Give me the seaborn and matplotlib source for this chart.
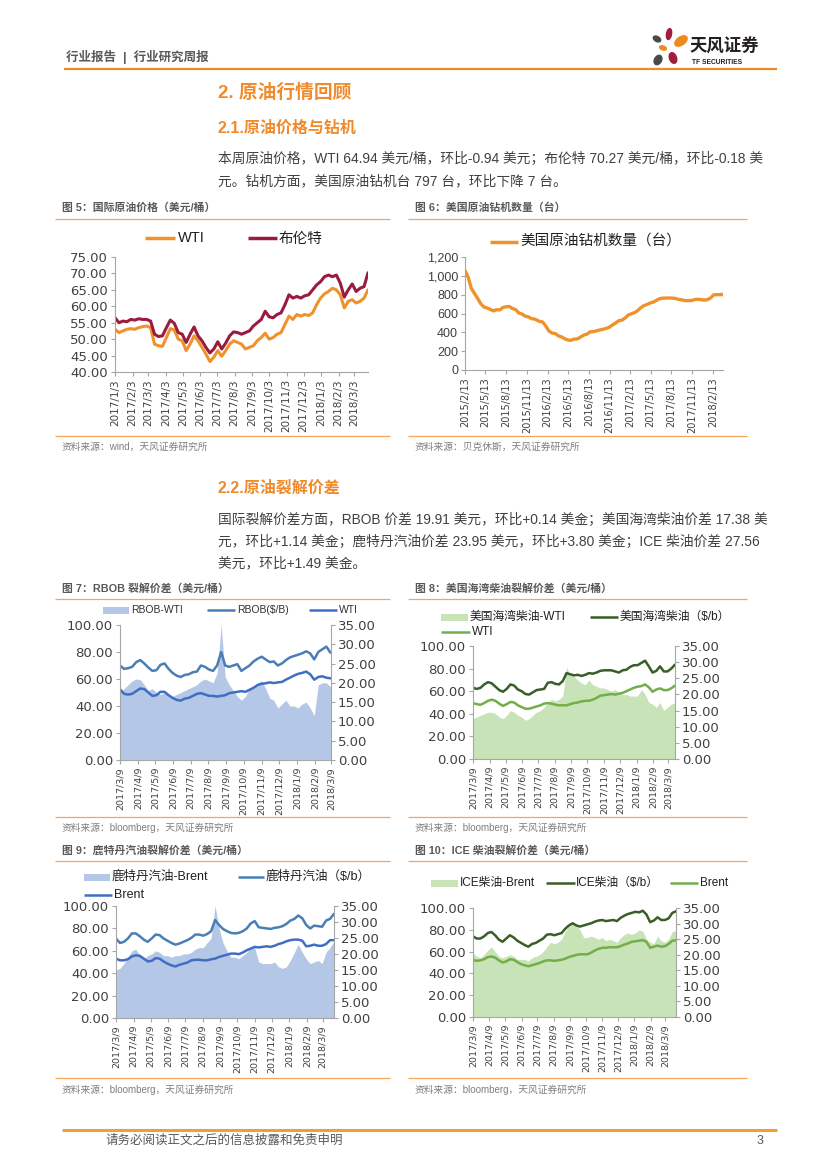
import numpy as np
import pandas as pd
import matplotlib
matplotlib.use("Agg")
import matplotlib.pyplot as plt
from matplotlib.patches import Rectangle, Ellipse
from matplotlib.ticker import FormatStrFormatter, FuncFormatter
import seaborn as sns

# ---------------- data ----------------
# Fig 5: international crude prices (weekly samples from 2017-01-03)
oil_dates = pd.date_range("2017-01-03", periods=65, freq="7D")
wti_price = [53.0, 52.0, 52.5, 53.0, 53.2, 53.0, 53.5, 53.8, 54.0, 53.5,
             48.5, 48.0, 47.8, 50.5, 53.2, 52.8, 50.0, 49.5, 46.5, 48.5,
             51.0, 49.5, 47.5, 45.5, 43.2, 44.5, 46.5, 44.8, 46.5, 48.5,
             49.5, 49.0, 48.5, 47.0, 47.5, 48.0, 49.5, 50.5, 51.8, 50.0,
             50.5, 51.5, 52.0, 54.5, 57.0, 56.0, 57.5, 57.0, 57.5, 57.2,
             58.0, 60.5, 62.5, 63.8, 64.5, 65.5, 65.0, 63.5, 59.5, 61.5,
             62.0, 61.0, 61.5, 62.5, 65.0]
brent_price = [56.5, 55.0, 55.5, 55.3, 56.0, 55.8, 56.2, 56.0, 56.0, 55.5,
               51.5, 50.8, 51.0, 53.5, 55.8, 54.8, 52.0, 51.5, 49.0, 51.5,
               53.7, 51.0, 49.5, 47.5, 45.8, 47.0, 49.2, 47.0, 48.8, 51.0,
               52.2, 52.0, 51.5, 52.0, 52.5, 54.0, 55.0, 56.0, 58.5, 56.8,
               56.5, 57.5, 58.0, 60.5, 63.5, 62.5, 63.0, 62.5, 63.2, 63.5,
               65.0, 66.5, 67.5, 69.0, 69.5, 69.0, 69.5, 67.0, 62.8, 65.0,
               66.8, 64.5, 65.5, 66.0, 70.2]
oil_ticks = ["2017/1/3", "2017/2/3", "2017/3/3", "2017/4/3", "2017/5/3", "2017/6/3",
             "2017/7/3", "2017/8/3", "2017/9/3", "2017/10/3", "2017/11/3", "2017/12/3",
             "2018/1/3", "2018/2/3", "2018/3/3"]

# Fig 6: US oil rig count
rig_dates = ["2015-02-13", "2015-02-27", "2015-03-13", "2015-03-27", "2015-04-10", "2015-04-24",
             "2015-05-08", "2015-05-22", "2015-06-05", "2015-06-19", "2015-07-02", "2015-07-17",
             "2015-07-31", "2015-08-14", "2015-08-28", "2015-09-11", "2015-09-25", "2015-10-09",
             "2015-10-23", "2015-11-06", "2015-11-20", "2015-12-04", "2015-12-18", "2016-01-08",
             "2016-01-22", "2016-02-05", "2016-02-19", "2016-03-04", "2016-03-18", "2016-04-01",
             "2016-04-15", "2016-04-29", "2016-05-13", "2016-05-27", "2016-06-10", "2016-06-24",
             "2016-07-08", "2016-07-22", "2016-08-05", "2016-08-19", "2016-09-02", "2016-09-16",
             "2016-09-30", "2016-10-14", "2016-10-28", "2016-11-10", "2016-11-23", "2016-12-09",
             "2016-12-23", "2017-01-06", "2017-01-20", "2017-02-03", "2017-02-17", "2017-03-03",
             "2017-03-17", "2017-03-31", "2017-04-13", "2017-04-28", "2017-05-12", "2017-05-26",
             "2017-06-09", "2017-06-23", "2017-07-07", "2017-07-21", "2017-08-04", "2017-08-18",
             "2017-09-01", "2017-09-15", "2017-09-29", "2017-10-13", "2017-10-27", "2017-11-10",
             "2017-11-22", "2017-12-08", "2017-12-22", "2018-01-05", "2018-01-19", "2018-02-02",
             "2018-02-16", "2018-03-02", "2018-03-16", "2018-03-23", "2018-03-29"]
rig_count = [1056, 986, 866, 813, 760, 703, 668, 659, 642, 628,
             640, 638, 664, 672, 675, 652, 641, 605, 594, 572,
             564, 545, 541, 516, 510, 467, 413, 392, 387, 362,
             351, 332, 318, 316, 328, 330, 351, 371, 381, 406,
             407, 416, 425, 432, 441, 452, 474, 498, 523, 529,
             551, 583, 597, 609, 631, 662, 683, 697, 712, 722,
             741, 758, 763, 764, 765, 763, 759, 749, 744, 736,
             737, 738, 747, 751, 747, 742, 747, 765, 798, 800,
             800, 804, 797]
rig_ticks = ["2015/2/13", "2015/5/13", "2015/8/13", "2015/11/13", "2016/2/13", "2016/5/13",
             "2016/8/13", "2016/11/13", "2017/2/13", "2017/5/13", "2017/8/13", "2017/11/13",
             "2018/2/13"]

crack_ticks = ["2017/3/9", "2017/4/9", "2017/5/9", "2017/6/9", "2017/7/9", "2017/8/9",
               "2017/9/9", "2017/10/9", "2017/11/9", "2017/12/9", "2018/1/9", "2018/2/9",
               "2018/3/9"]

# Fig 7: RBOB crack (weekly from 2017-03-09)
rbob_dates = pd.date_range("2017-03-09", periods=53, freq="7D")
rbob_spread = [17.5, 18.5, 19.5, 20.5, 21.0, 20.8, 19.5, 18.0, 18.5, 17.5,
               17.0, 17.5, 16.5, 16.5, 17.0, 17.5, 18.0, 18.5, 19.0, 19.5,
               20.5, 21.0, 20.5, 20.0, 22.5, 35.0, 21.5, 19.5, 18.0, 16.5,
               15.5, 16.5, 18.5, 19.0, 20.0, 20.5, 18.5, 16.0, 15.5, 13.5,
               14.5, 15.5, 14.0, 14.0, 13.5, 14.5, 15.0, 13.5, 11.5, 19.5,
               20.0, 20.0, 19.0]
rbob_price = [70, 67.5, 68, 69, 72.5, 74, 71.5, 68.5, 66, 66.5,
              70.5, 71.5, 67.5, 64.5, 62.5, 61.5, 63, 63.5, 65, 65.5,
              70, 69, 67, 66, 70, 80, 70, 69, 70, 71,
              66, 68, 70, 73, 75, 76.5, 74.5, 72.5, 73, 70,
              71.5, 74, 76, 77, 78, 79, 80.5, 79, 74.5, 80,
              82, 84, 79.5]
rbob_wti = [52.5, 49.0, 48.5, 49.0, 51.0, 53.0, 52.5, 50.0, 47.5, 48.0,
            50.5, 50.5, 48.0, 46.0, 44.5, 44.0, 45.5, 46.0, 47.5, 49.0,
            49.5, 48.5, 47.5, 47.5, 47.0, 47.5, 48.0, 49.5, 50.0, 50.5,
            51.0, 50.5, 52.0, 53.5, 55.5, 56.5, 56.8, 57.5, 57.0, 57.5,
            57.8, 59.5, 61.0, 62.5, 63.8, 64.5, 65.5, 63.5, 59.5, 61.5,
            62.0, 61.0, 60.5]

# Fig 8: US Gulf diesel crack
gulf_dates = pd.date_range("2017-03-09", periods=55, freq="7D")
gulf_spread = [12.5, 13.0, 13.5, 14.0, 14.5, 14.5, 14.0, 13.0, 12.5, 13.5,
               15.0, 14.5, 13.5, 13.0, 12.0, 12.5, 13.5, 14.5, 15.0, 16.0,
               17.5, 18.5, 18.0, 18.5, 19.5, 28.5, 26.0, 25.5, 24.5, 23.5,
               23.0, 24.5, 23.0, 22.5, 22.0, 22.0, 21.5, 21.0, 21.5, 20.5,
               20.0, 20.0, 19.5, 19.5, 19.5, 21.5, 20.0, 17.5, 17.0, 16.0,
               17.5, 15.0, 16.0, 17.0, 17.4]
gulf_price = [63, 62, 63, 66, 68, 67, 64, 61, 59.5, 62,
              66, 65, 61.5, 60, 57.5, 57, 59, 61, 61.5, 62,
              67.5, 68, 66.5, 66, 69, 76, 75, 74, 74.5, 73.5,
              74.5, 76, 75.5, 76.5, 78, 78.5, 78.5, 78.5, 77.5, 76.5,
              78.5, 79, 81.5, 83, 83, 85, 87, 82, 76.5, 78,
              82, 77.5, 77.5, 80, 83.5]
gulf_wti = [49.5, 48.5, 48.0, 49.5, 51.5, 52.5, 51.5, 49.0, 47.0, 48.5,
            50.5, 50.0, 47.5, 46.0, 44.5, 44.5, 45.5, 46.5, 47.5, 49.0,
            49.5, 49.0, 48.0, 47.5, 47.5, 47.5, 48.5, 49.5, 50.0, 51.0,
            51.5, 51.5, 52.5, 54.0, 56.0, 56.5, 57.0, 57.5, 57.0, 57.8,
            58.5, 60.0, 61.5, 63.0, 64.0, 64.5, 66.0, 63.5, 59.5, 61.5,
            62.5, 61.0, 61.0, 62.5, 65.0]

# Fig 9: Rotterdam gasoline crack
rott_dates = pd.date_range("2017-03-09", periods=56, freq="7D")
rott_spread = [15.0, 15.5, 17.0, 19.0, 21.0, 21.5, 19.5, 18.5, 19.5, 20.0,
               21.0, 20.5, 19.5, 19.5, 19.0, 19.5, 19.5, 20.0, 20.0, 20.5,
               21.5, 22.0, 22.0, 23.5, 25.0, 35.0, 28.0, 23.5, 21.0, 19.0,
               19.0, 18.5, 19.5, 20.5, 22.0, 22.0, 17.5, 17.0, 17.0, 17.0,
               17.5, 16.0, 15.5, 16.0, 18.0, 20.5, 23.0, 20.5, 18.5, 17.0,
               17.5, 18.0, 17.0, 20.5, 22.0, 24.0]
rott_price = [71, 67, 68, 71, 75.5, 75.5, 73, 70, 68, 71,
              74.5, 74, 71, 69, 67, 65.5, 66.5, 68, 69.5, 71.5,
              74.5, 74.5, 73.5, 75, 77.5, 87.5, 83, 79.5, 77.5, 76,
              75.5, 76, 77.5, 80, 84.5, 86.5, 81, 80.5, 80, 79.5,
              80.5, 81, 82, 84, 87, 88.5, 91.5, 89, 83, 80,
              82.5, 82, 81.5, 87, 88.5, 93]
rott_brent = [53.0, 51.5, 51.5, 52.5, 55.0, 56.0, 55.5, 53.0, 50.5, 51.0,
              53.5, 53.0, 50.5, 48.5, 47.0, 46.0, 47.5, 48.5, 49.5, 51.5,
              52.0, 52.0, 51.5, 51.5, 52.5, 53.0, 54.5, 55.5, 56.5, 57.5,
              57.5, 57.0, 58.5, 60.5, 62.0, 63.5, 63.0, 63.5, 64.0, 63.5,
              64.5, 66.0, 67.0, 68.5, 69.5, 70.0, 70.0, 69.0, 64.0, 64.5,
              65.5, 64.5, 64.5, 66.0, 69.5, 69.5]

# Fig 10: ICE gasoil crack
ice_dates = pd.date_range("2017-03-09", periods=56, freq="7D")
ice_spread = [20.5, 19.5, 19.0, 20.0, 21.5, 22.5, 21.0, 19.5, 19.0, 19.5,
              20.0, 19.5, 18.5, 18.5, 18.5, 18.0, 19.0, 19.5, 20.0, 21.0,
              22.5, 24.0, 23.5, 24.0, 25.0, 27.5, 29.0, 30.0, 29.5, 28.0,
              25.5, 25.5, 26.0, 25.5, 25.0, 25.5, 24.5, 25.0, 24.5, 24.0,
              25.5, 26.5, 27.0, 26.5, 27.0, 28.0, 27.5, 25.0, 24.0, 23.5,
              26.0, 24.5, 24.0, 25.0, 27.5, 27.6]
ice_price = [74, 72, 72, 74, 77, 78, 75, 71, 69, 72,
             75, 73, 70, 68, 66, 64.5, 67, 68, 70, 72,
             75.5, 76, 75, 76, 77, 81, 84, 86, 84, 83,
             84, 85, 86, 87.5, 88.5, 89, 88, 88.5, 89, 88,
             91, 93, 94.5, 95.5, 96.5, 96, 97.5, 94, 87, 88.5,
             91.5, 89, 89, 90.5, 95.5, 97]
ice_brent = [52.5, 51.5, 52.0, 53.0, 55.0, 55.5, 54.5, 52.0, 50.0, 51.0,
             53.0, 52.5, 50.5, 48.5, 47.5, 46.5, 47.5, 48.5, 49.5, 51.0,
             52.0, 52.0, 51.5, 52.0, 52.5, 53.5, 55.0, 56.0, 57.0, 57.5,
             57.5, 57.5, 59.0, 61.0, 62.5, 63.5, 63.5, 64.0, 64.0, 64.0,
             65.0, 66.5, 67.5, 69.0, 69.5, 70.0, 70.5, 69.0, 63.5, 64.5,
             65.5, 64.5, 65.0, 67.0, 70.0, 70.3]

# ---------------- style ----------------
sns.set_theme(style="white")
plt.rcParams["font.family"] = ["Liberation Sans", "Noto Sans CJK SC", "DejaVu Sans"]
plt.rcParams["axes.unicode_minus"] = False

W, H = 827, 1169
fig = plt.figure(figsize=(W / 100, H / 100), dpi=100)
fig.patch.set_facecolor("white")

ov = fig.add_axes([0, 0, 1, 1])
ov.set_xlim(0, W)
ov.set_ylim(H, 0)
ov.axis("off")

ORANGE = "#EF8B2C"
SEC_LINE = "#F5A65B"
TXT = "#404040"
CAP = "#595959"
SRC = "#7F7F7F"
SPINE = "#A6A6A6"
TICKTXT = "#404040"

C_WTI = "#F0922B"
C_BRENT = "#9B1B3F"
C_BLUE_AREA = "#B4C7E7"
C_BLUE_1 = "#4A7EB5"
C_BLUE_2 = "#416EC3"
C_GREEN_AREA = "#C9E3B9"
C_GREEN_D = "#3A5E27"
C_GREEN_L = "#73AE49"


def t(x, y, s, size, color=TXT, weight="normal", ha="left", va="center", **kw):
    ov.text(x, y, s, fontsize=size, color=color, fontweight=weight, ha=ha, va=va, **kw)


def hl(x0, x1, y, color=SEC_LINE, lw=0.9):
    ov.plot([x0, x1], [y, y], color=color, lw=lw, solid_capstyle="butt")


def leg_line(x0, x1, y, color, lw=2.0):
    ov.plot([x0, x1], [y, y], color=color, lw=lw, solid_capstyle="butt")


def leg_patch(x0, x1, y, color, h=7):
    ov.add_patch(Rectangle((x0, y - h / 2), x1 - x0, h, color=color, lw=0))


def new_ax(l, tp, r, b):
    return fig.add_axes([l / W, 1 - b / H, (r - l) / W, (b - tp) / H])


def date_axis(ax, ticks, size):
    ax.set_xticks(pd.to_datetime(ticks, format="%Y/%m/%d"))
    ax.set_xticklabels(ticks, rotation=90, fontsize=size, color=TICKTXT, family="DejaVu Sans")


def base_style(ax):
    ax.set_facecolor("none")
    for s in ax.spines.values():
        s.set_visible(False)
        s.set_color(SPINE)
        s.set_linewidth(0.8)
    ax.set_xlabel("")
    ax.set_ylabel("")


# ---------------- header ----------------
t(66, 57, "行业报告  |  行业研究周报", 9, color="#595959", weight="bold")
hl(64, 777, 69, color="#EE8A2E", lw=1.6)
ov.add_patch(Ellipse((669, 34), 5, 11, angle=10, color="#A01E3C"))
ov.add_patch(Ellipse((681, 41), 14, 8, angle=-35, color="#EE8A1E"))
ov.add_patch(Ellipse((657, 39), 8, 5, angle=30, color="#4A4A4A"))
ov.add_patch(Ellipse((663, 48), 7, 4, angle=20, color="#EE8A1E"))
ov.add_patch(Ellipse((658, 60), 7, 10, angle=30, color="#4A4A4A"))
ov.add_patch(Ellipse((673, 58), 7, 11, angle=-20, color="#A01E3C"))
t(690, 47, "天风证券", 12.5, color="#231F20", weight="bold", family="Noto Sans CJK SC")
t(692, 62, "TF SECURITIES", 4.8, color="#231F20", weight="bold")

# ---------------- section text ----------------
t(218, 93, "2. 原油行情回顾", 13.5, color=ORANGE, weight="bold")
t(218, 128, "2.1.原油价格与钻机", 11.5, color=ORANGE, weight="bold")
t(218, 159, "本周原油价格，WTI 64.94 美元/桶，环比-0.94 美元；布伦特 70.27 美元/桶，环比-0.18 美", 9.9)
t(218, 181, "元。钻机方面，美国原油钻机台 797 台，环比下降 7 台。", 9.9)

t(218, 488, "2.2.原油裂解价差", 11.5, color=ORANGE, weight="bold")
t(218, 520, "国际裂解价差方面，RBOB 价差 19.91 美元，环比+0.14 美金；美国海湾柴油价差 17.38 美", 9.9)
t(218, 542, "元，环比+1.14 美金；鹿特丹汽油价差 23.95 美元，环比+3.80 美金；ICE 柴油价差 27.56", 9.9)
t(218, 563, "美元，环比+1.49 美金。", 9.9)

# captions / source lines
for (cx, ly0, ly1, cy, lyc, lys, sy, cap, src) in [
    (62, 55, 390, 208, 219, 436, 447, "图 5：国际原油价格（美元/桶）", "资料来源：wind，天风证券研究所"),
    (415, 408, 747, 208, 219, 436, 447, "图 6：美国原油钻机数量（台）", "资料来源：贝克休斯，天风证券研究所"),
    (62, 55, 390, 588, 599, 817, 828, "图 7：RBOB 裂解价差（美元/桶）", "资料来源：bloomberg，天风证券研究所"),
    (415, 408, 747, 588, 599, 817, 828, "图 8：美国海湾柴油裂解价差（美元/桶）", "资料来源：bloomberg，天风证券研究所"),
    (62, 55, 390, 850, 861, 1078, 1090, "图 9：鹿特丹汽油裂解价差（美元/桶）", "资料来源：bloomberg，天风证券研究所"),
    (415, 408, 747, 850, 861, 1078, 1090, "图 10：ICE 柴油裂解价差（美元/桶）", "资料来源：bloomberg，天风证券研究所"),
]:
    t(cx, cy, cap, 7.8, color=CAP, weight="bold")
    hl(ly0, ly1, lyc)
    hl(ly0, ly1, lys)
    t(cx, sy, src, 7, color=SRC)

# footer
hl(62, 777, 1130, color="#F0A032", lw=2.2)
t(105, 1141, "请务必阅读正文之后的信息披露和免责申明", 9, color="#595959")
t(757, 1141, "3", 9, color="#595959")

# ---------------- Fig 5 ----------------
ax5 = new_ax(115, 257, 368, 372)
sns.lineplot(x=oil_dates, y=wti_price, ax=ax5, color=C_WTI, lw=2.2)
sns.lineplot(x=oil_dates, y=brent_price, ax=ax5, color=C_BRENT, lw=2.2)
base_style(ax5)
ax5.spines["left"].set_visible(True)
ax5.spines["bottom"].set_visible(True)
ax5.set_ylim(40, 75)
ax5.set_yticks(np.arange(40, 76, 5))
ax5.yaxis.set_major_formatter(FormatStrFormatter("%.2f"))
ax5.set_xlim(oil_dates[0], oil_dates[-1])
date_axis(ax5, oil_ticks, 7.5)
ax5.tick_params(axis="y", left=True, length=3, width=0.8, color=SPINE, labelsize=9.5,
                labelcolor=TICKTXT, pad=2, labelfontfamily="DejaVu Sans")
ax5.tick_params(axis="x", bottom=True, length=3, width=0.8, color=SPINE, pad=2)
leg_line(145, 175, 238, C_WTI, 2.5)
t(178, 238, "WTI", 10.5, color="#202020")
leg_line(248, 277, 238, C_BRENT, 2.5)
t(279, 239, "布伦特", 10.5, color="#202020")

# ---------------- Fig 6 ----------------
ax6 = new_ax(465, 257, 723, 370)
sns.lineplot(x=pd.to_datetime(rig_dates), y=rig_count, ax=ax6, color=C_WTI, lw=2.4)
base_style(ax6)
ax6.spines["left"].set_visible(True)
ax6.spines["bottom"].set_visible(True)
ax6.set_ylim(0, 1200)
ax6.set_yticks(np.arange(0, 1201, 200))
ax6.yaxis.set_major_formatter(FuncFormatter(lambda v, p: f"{v:,.0f}"))
ax6.set_xlim(pd.Timestamp(rig_dates[0]), pd.Timestamp(rig_dates[-1]))
date_axis(ax6, rig_ticks, 7)
ax6.tick_params(axis="y", left=True, length=3, width=0.8, color=SPINE, labelsize=9,
                labelcolor=TICKTXT, pad=2)
ax6.tick_params(axis="x", bottom=True, length=3, width=0.8, color=SPINE, pad=2)
leg_line(490, 518, 242, C_WTI, 2.5)
t(520, 242, "美国原油钻机数量（台）", 10.5, color="#202020")


# ---------------- crack charts ----------------
def crack(rect, dates, spread, price, base, c_area, c_price, c_base, xmax):
    l, tp, r, b = rect
    ax = new_ax(l, tp, r, b)
    ax.fill_between(dates, spread, 0, color=c_area, lw=0)
    ax2 = ax.twinx()
    sns.lineplot(x=dates, y=price, ax=ax2, color=c_price, lw=1.8)
    sns.lineplot(x=dates, y=base, ax=ax2, color=c_base, lw=1.8)
    base_style(ax)
    base_style(ax2)
    ax.spines["right"].set_visible(True)
    ax.spines["bottom"].set_visible(True)
    ax2.spines["left"].set_visible(True)
    ax.yaxis.tick_right()
    ax2.yaxis.tick_left()
    ax.set_ylim(0, 35)
    ax.set_yticks(np.arange(0, 36, 5))
    ax2.set_ylim(0, 100)
    ax2.set_yticks(np.arange(0, 101, 20))
    ax.yaxis.set_major_formatter(FormatStrFormatter("%.2f"))
    ax2.yaxis.set_major_formatter(FormatStrFormatter("%.2f"))
    ax.set_xlim(dates[0], pd.Timestamp(xmax))
    date_axis(ax, crack_ticks, 6.8)
    ax.tick_params(axis="y", right=True, left=False, length=3, width=0.8, color=SPINE,
                   labelsize=9.5, labelcolor=TICKTXT, pad=2, labelfontfamily="DejaVu Sans")
    ax2.tick_params(axis="y", left=True, right=False, length=3, width=0.8, color=SPINE,
                    labelsize=9.5, labelcolor=TICKTXT, pad=2, labelfontfamily="DejaVu Sans")
    ax.tick_params(axis="x", bottom=True, length=3, width=0.8, color=SPINE, pad=2)
    return ax, ax2


crack((120, 625, 331, 760), rbob_dates, rbob_spread, rbob_price, rbob_wti,
      C_BLUE_AREA, C_BLUE_1, C_BLUE_2, "2018-03-09")
leg_patch(103, 129, 610, C_BLUE_AREA)
t(131, 610, "RBOB-WTI", 7.5, color="#303030")
leg_line(207, 235, 610, C_BLUE_1, 1.8)
t(237, 610, "RBOB($/B)", 7.5, color="#303030")
leg_line(309, 337, 610, C_BLUE_2, 1.8)
t(339, 610, "WTI", 7.5, color="#303030")

crack((473, 646, 675, 759), gulf_dates, gulf_spread, gulf_price, gulf_wti,
      C_GREEN_AREA, C_GREEN_D, C_GREEN_L, "2018-03-22")
leg_patch(441, 468, 617, C_GREEN_AREA)
t(470, 617, "美国海湾柴油-WTI", 8.5, color="#202020")
leg_line(590, 618, 617, C_GREEN_D, 1.8)
t(620, 617, "美国海湾柴油（$/b）", 8.5, color="#202020")
leg_line(441, 470, 632, C_GREEN_L, 1.8)
t(472, 632, "WTI", 8.5, color="#202020")

crack((116, 906, 334, 1018), rott_dates, rott_spread, rott_price, rott_brent,
      C_BLUE_AREA, C_BLUE_1, C_BLUE_2, "2018-03-29")
leg_patch(84, 110, 877, C_BLUE_AREA)
t(112, 877, "鹿特丹汽油-Brent", 9, color="#202020")
leg_line(238, 264, 877, C_BLUE_1, 1.8)
t(266, 877, "鹿特丹汽油（$/b）", 9, color="#202020")
leg_line(84, 112, 895, C_BLUE_2, 1.8)
t(114, 895, "Brent", 9, color="#202020")

crack((473, 908, 676, 1017), ice_dates, ice_spread, ice_price, ice_brent,
      C_GREEN_AREA, C_GREEN_D, C_GREEN_L, "2018-03-29")
leg_patch(431, 458, 883, C_GREEN_AREA)
t(460, 883, "ICE柴油-Brent", 8.5, color="#202020")
leg_line(546, 575, 883, C_GREEN_D, 1.8)
t(576, 883, "ICE柴油（$/b）", 8.5, color="#202020")
leg_line(670, 698, 883, C_GREEN_L, 1.8)
t(700, 883, "Brent", 8.5, color="#202020")

fig.savefig("out.png", dpi=100, facecolor="white")
